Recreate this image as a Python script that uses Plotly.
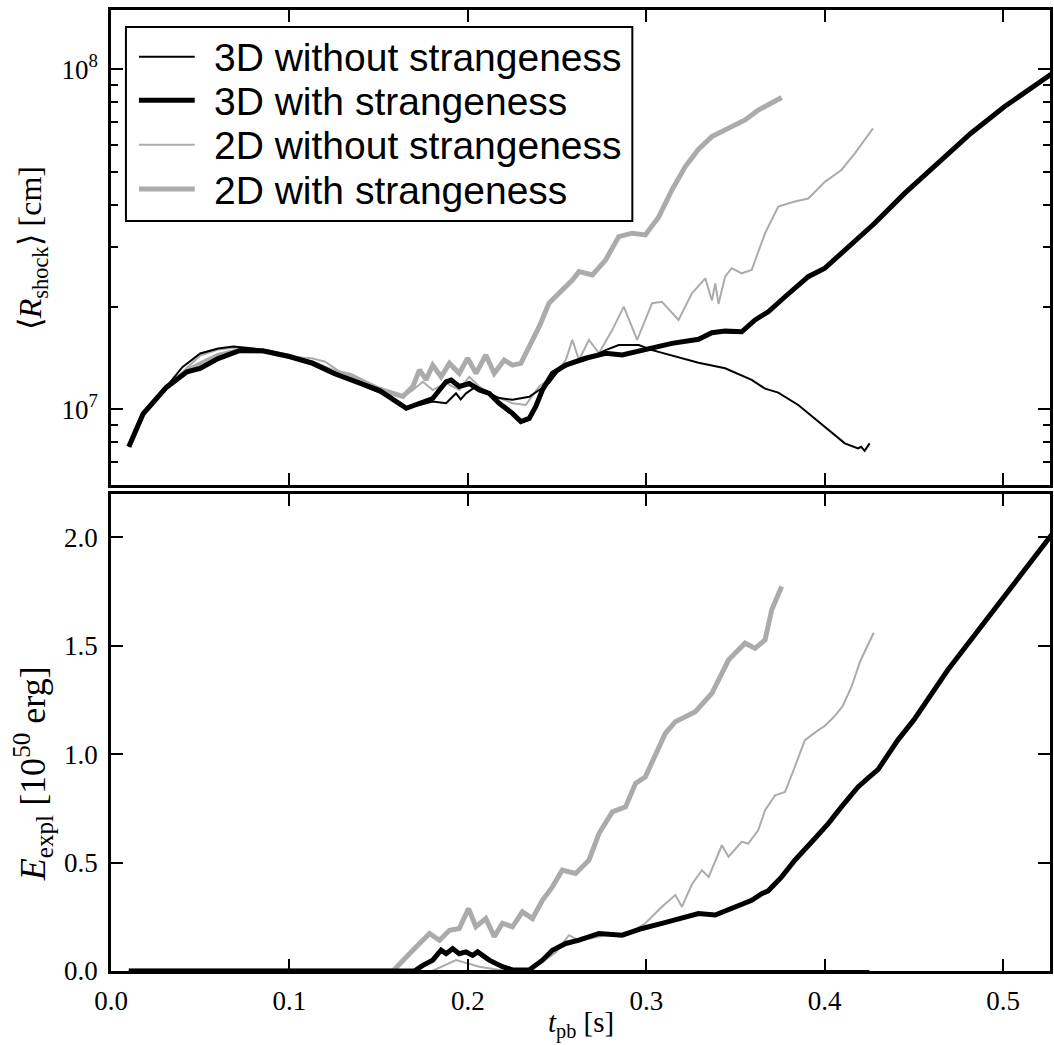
import plotly.graph_objects as go

# ---------------- data ----------------
# Top panel: mean shock radius <R_shock> [cm]
t_r3d_nos = [0.010, 0.018, 0.031, 0.040, 0.050, 0.060, 0.0686, 0.080, 0.090, 0.100, 0.113, 0.125,
             0.134, 0.145, 0.1506, 0.1617, 0.1655, 0.1729, 0.1803, 0.1878, 0.1934, 0.196, 0.199,
             0.2046, 0.212, 0.2176, 0.225, 0.2344, 0.240, 0.2455, 0.2511, 0.2567, 0.266, 0.2772,
             0.2846, 0.2958, 0.3033, 0.3181, 0.3293, 0.3442, 0.3591, 0.3666, 0.374, 0.3852,
             0.3964, 0.4001, 0.4113, 0.4187, 0.4205, 0.4224, 0.4252]
r_3d_nos = [7.76e6, 9.73e6, 1.164e7, 1.33e7, 1.46e7, 1.51e7, 1.53e7, 1.51e7, 1.48e7, 1.43e7, 1.38e7, 1.29e7,
            1.22e7, 1.15e7, 1.12e7, 1.05e7, 1.014e7, 1.03e7, 1.054e7, 1.042e7, 1.114e7, 1.07e7, 1.114e7,
            1.167e7, 1.114e7, 1.079e7, 1.067e7, 1.089e7, 1.14e7, 1.194e7, 1.306e7, 1.349e7, 1.396e7, 1.493e7,
            1.545e7, 1.545e7, 1.493e7, 1.42e7, 1.37e7, 1.32e7, 1.22e7, 1.15e7, 1.12e7, 1.03e7,
            9.23e6, 8.89e6, 7.94e6, 7.67e6, 7.76e6, 7.55e6, 7.94e6]

t_r3d_s = [0.010, 0.018, 0.031, 0.0426, 0.050, 0.060, 0.0723, 0.085, 0.100, 0.113, 0.125, 0.134,
           0.1506, 0.1655, 0.173, 0.1803, 0.1878, 0.1906, 0.1952, 0.2008, 0.2064, 0.212, 0.2176,
           0.225, 0.2297, 0.2344, 0.2381, 0.2418, 0.2474, 0.2549, 0.266, 0.2772, 0.2865, 0.2995,
           0.3144, 0.3293, 0.3368, 0.3442, 0.3535, 0.361, 0.3684, 0.3778, 0.3908, 0.4001, 0.4131,
           0.428, 0.4448, 0.4634, 0.482, 0.5007, 0.5155, 0.527, 0.535]
r_3d_s = [7.76e6, 9.7e6, 1.16e7, 1.29e7, 1.32e7, 1.41e7, 1.49e7, 1.486e7, 1.43e7, 1.365e7, 1.274e7, 1.22e7,
          1.135e7, 1.007e7, 1.042e7, 1.076e7, 1.205e7, 1.219e7, 1.167e7, 1.191e7, 1.14e7, 1.114e7, 1.042e7,
          9.73e6, 9.2e6, 9.4e6, 1.019e7, 1.14e7, 1.276e7, 1.349e7, 1.413e7, 1.462e7, 1.445e7, 1.493e7,
          1.563e7, 1.607e7, 1.679e7, 1.698e7, 1.69e7, 1.832e7, 1.936e7, 2.143e7, 2.455e7, 2.6e7, 3.006e7,
          3.524e7, 4.315e7, 5.297e7, 6.486e7, 7.762e7, 8.79e7, 9.73e7, 1.035e8]

t_r2d_nos = [0.010, 0.018, 0.031, 0.043, 0.050, 0.060, 0.070, 0.085, 0.100, 0.113, 0.120, 0.134,
             0.150, 0.1636, 0.1692, 0.1748, 0.1803, 0.1878, 0.1952, 0.2008, 0.2064, 0.2157, 0.225,
             0.2325, 0.240, 0.2474, 0.2549, 0.2586, 0.2623, 0.2679, 0.2735, 0.2809, 0.2874, 0.2949,
             0.3033, 0.3088, 0.3181, 0.3256, 0.3331, 0.3368, 0.3387, 0.3405, 0.3442, 0.3479, 0.3535,
             0.3591, 0.3666, 0.374, 0.3833, 0.3908, 0.4001, 0.4094, 0.4169, 0.4271]
r_2d_nos = [7.76e6, 9.7e6, 1.16e7, 1.33e7, 1.44e7, 1.50e7, 1.52e7, 1.49e7, 1.43e7, 1.41e7, 1.38e7, 1.23e7,
            1.135e7, 1.089e7, 1.14e7, 1.205e7, 1.14e7, 1.194e7, 1.14e7, 1.247e7, 1.167e7, 1.089e7, 1.042e7,
            1.03e7, 1.167e7, 1.247e7, 1.396e7, 1.60e7, 1.396e7, 1.60e7, 1.462e7, 1.71e7, 2.004e7, 1.60e7,
            2.051e7, 2.07e7, 1.832e7, 2.193e7, 2.427e7, 2.089e7, 2.344e7, 2.042e7, 2.455e7, 2.60e7, 2.512e7,
            2.57e7, 3.296e7, 3.945e7, 4.083e7, 4.169e7, 4.667e7, 5.058e7, 5.662e7, 6.699e7]

t_r2d_s = [0.010, 0.018, 0.031, 0.043, 0.050, 0.060, 0.072, 0.085, 0.100, 0.113, 0.125, 0.134,
           0.150, 0.1636, 0.1692, 0.1729, 0.1766, 0.1803, 0.185, 0.1897, 0.1952, 0.1999, 0.2046,
           0.2101, 0.2148, 0.2204, 0.225, 0.2297, 0.2344, 0.240, 0.2455, 0.2511, 0.2586, 0.2623,
           0.2698, 0.2772, 0.2846, 0.2921, 0.2995, 0.307, 0.3144, 0.3219, 0.3293, 0.3368, 0.3479,
           0.3554, 0.3628, 0.3759]
r_2d_s = [7.76e6, 9.7e6, 1.16e7, 1.30e7, 1.36e7, 1.44e7, 1.49e7, 1.485e7, 1.43e7, 1.37e7, 1.29e7, 1.26e7,
          1.148e7, 1.091e7, 1.167e7, 1.306e7, 1.222e7, 1.349e7, 1.247e7, 1.365e7, 1.276e7, 1.413e7, 1.276e7,
          1.445e7, 1.276e7, 1.396e7, 1.349e7, 1.365e7, 1.528e7, 1.75e7, 2.051e7, 2.193e7, 2.399e7, 2.541e7,
          2.483e7, 2.748e7, 3.221e7, 3.296e7, 3.258e7, 3.681e7, 4.416e7, 5.176e7, 5.821e7, 6.339e7, 6.776e7,
          7.096e7, 7.586e7, 8.26e7]

# Bottom panel: explosion energy [1e50 erg]
t_e3d_nos = [0.010, 0.100, 0.200, 0.300, 0.425]
e_3d_nos = [0.0, 0.0, 0.0, 0.0, 0.0]

t_e3d_s = [0.010, 0.170, 0.1748, 0.1803, 0.185, 0.1878, 0.1915, 0.1952, 0.1989, 0.2027, 0.2055,
           0.212, 0.2194, 0.225, 0.2344, 0.2418, 0.2474, 0.2549, 0.2623, 0.2735, 0.2865, 0.2977,
           0.3088, 0.3181, 0.3293, 0.3386, 0.348, 0.3591, 0.3647, 0.3684, 0.3759, 0.3833, 0.3945,
           0.402, 0.4094, 0.4187, 0.4243, 0.430, 0.441, 0.450, 0.469, 0.4968, 0.527, 0.535]
e_3d_s = [0.0, 0.0, 0.026, 0.05, 0.096, 0.08, 0.103, 0.08, 0.088, 0.072, 0.088,
          0.05, 0.02, 0.005, 0.005, 0.05, 0.096, 0.127, 0.142, 0.173, 0.165, 0.196,
          0.22, 0.242, 0.265, 0.258, 0.288, 0.326, 0.357, 0.37, 0.434, 0.511, 0.611,
          0.68, 0.757, 0.849, 0.89, 0.93, 1.065, 1.158, 1.388, 1.69, 2.01, 2.09]

t_e2d_nos = [0.010, 0.180, 0.1934, 0.2064, 0.2213, 0.2362, 0.2492, 0.2567, 0.2623, 0.2772, 0.2884,
             0.2995, 0.3088, 0.3163, 0.320, 0.3256, 0.3312, 0.335, 0.3424, 0.3461, 0.3535, 0.3572,
             0.3628, 0.3666, 0.3722, 0.3778, 0.3833, 0.3889, 0.3964, 0.400, 0.405, 0.410, 0.415,
             0.420, 0.424, 0.4275]
e_2d_nos = [0.0, 0.0, 0.05, 0.02, 0.0, 0.01, 0.085, 0.165, 0.14, 0.165, 0.165,
            0.22, 0.296, 0.35, 0.296, 0.40, 0.465, 0.434, 0.58, 0.527, 0.596, 0.588,
            0.65, 0.742, 0.81, 0.826, 0.942, 1.065, 1.111, 1.13, 1.17, 1.22, 1.31,
            1.43, 1.5, 1.56]

t_e2d_s = [0.010, 0.158, 0.1692, 0.1785, 0.1841, 0.1897, 0.1952, 0.2004, 0.2045, 0.2101, 0.2148,
           0.2194, 0.225, 0.2306, 0.2362, 0.2418, 0.2474, 0.2529, 0.2604, 0.2679, 0.2735, 0.281,
           0.2884, 0.294, 0.2995, 0.305, 0.3107, 0.3163, 0.3275, 0.3368, 0.3461, 0.3498, 0.3554,
           0.361, 0.3666, 0.3703, 0.3759]
e_2d_s = [0.0, 0.0, 0.096, 0.173, 0.142, 0.188, 0.196, 0.288, 0.204, 0.242, 0.158,
          0.22, 0.204, 0.273, 0.242, 0.326, 0.388, 0.465, 0.45, 0.511, 0.634, 0.734,
          0.757, 0.865, 0.896, 0.988, 1.096, 1.15, 1.196, 1.281, 1.434, 1.465, 1.512,
          1.488, 1.527, 1.665, 1.773]

series_names = ["3D without strangeness", "3D with strangeness",
                "2D without strangeness", "2D with strangeness"]
x_tick_vals = [0.0, 0.1, 0.2, 0.3, 0.4, 0.5]
r_tick_vals = [1e7, 1e8]
r_tick_text = ["10<sup>7</sup>", "10<sup>8</sup>"]
r_minor_vals = [6e6, 7e6, 8e6, 9e6, 2e7, 3e7, 4e7, 5e7, 6e7, 7e7, 8e7, 9e7]
e_tick_vals = [0.0, 0.5, 1.0, 1.5, 2.0]

# ---------------- geometry / styling ----------------
W, H = 1054, 1045
L, R, T, B = 111, 1, 10, 74
PW, PH = W - L - R, H - T - B


def px_x(px):
    return (px - L) / PW


def px_y(py):
    return (H - B - py) / PH


styles = [dict(color="black", width=2),
          dict(color="black", width=5),
          dict(color="#ababab", width=2),
          dict(color="#ababab", width=5)]

top_data = [(t_r3d_nos, r_3d_nos), (t_r3d_s, r_3d_s), (t_r2d_nos, r_2d_nos), (t_r2d_s, r_2d_s)]
bot_data = [(t_e3d_nos, e_3d_nos), (t_e3d_s, e_3d_s), (t_e2d_nos, e_2d_nos), (t_e2d_s, e_2d_s)]

fig = go.Figure()
draw_order = [3, 2, 0, 1]   # grey curves beneath the black ones
for i in draw_order:
    tx, ry = top_data[i]
    fig.add_trace(go.Scatter(x=tx, y=ry, mode="lines", name=series_names[i], line=styles[i],
                             xaxis="x", yaxis="y", showlegend=False))
for i in draw_order:
    tx, ey = bot_data[i]
    fig.add_trace(go.Scatter(x=tx, y=ey, mode="lines", name=series_names[i], line=styles[i],
                             xaxis="x2", yaxis="y2", showlegend=False))

SERIF = "Liberation Serif, Times New Roman, serif"
tickfont = dict(family=SERIF, size=27, color="black")
common = dict(showline=True, linewidth=2.5, linecolor="black", mirror="ticks",
              ticks="inside", ticklen=12, tickwidth=2, tickcolor="black",
              showgrid=False, zeroline=False, tickfont=tickfont)

x_range = [0.0, 0.5263]
top_dom = [px_y(485), 1.0]
bot_dom = [0.0, px_y(494)]

# legend drawn as a boxed key (top-left of upper panel)
leg_rows = [56.7, 100.3, 144.7, 189.0]
shapes = [dict(type="rect", xref="paper", yref="paper",
               x0=px_x(126), x1=px_x(634), y0=px_y(27), y1=px_y(221),
               line=dict(color="black", width=2), fillcolor="white", layer="above")]
annotations = []
for i, ry in enumerate(leg_rows):
    shapes.append(dict(type="line", xref="paper", yref="paper",
                       x0=px_x(139), x1=px_x(195), y0=px_y(ry), y1=px_y(ry),
                       line=dict(color=styles[i]["color"], width=styles[i]["width"]),
                       layer="above"))
    annotations.append(dict(text=series_names[i], xref="paper", yref="paper",
                            x=px_x(212), y=px_y(ry + 1), xanchor="left", yanchor="middle",
                            showarrow=False,
                            font=dict(family="Liberation Sans, Arial, sans-serif",
                                      size=39, color="black")))

annotations += [
    dict(text="⟨<i>R</i><sub>shock</sub>⟩ [cm]", x=px_x(33), y=px_y(248),
         xref="paper", yref="paper", xanchor="center", yanchor="middle",
         showarrow=False, textangle=-90, font=dict(family=SERIF, size=32, color="black")),
    dict(text="<i>E</i><sub>expl</sub> [10<sup>50</sup> erg]", x=px_x(33), y=px_y(774),
         xref="paper", yref="paper", xanchor="center", yanchor="middle",
         showarrow=False, textangle=-90, font=dict(family=SERIF, size=36, color="black")),
    dict(text="<i>t</i><sub>pb</sub> [s]", x=px_x(583), y=px_y(1024),
         xref="paper", yref="paper", xanchor="center", yanchor="middle",
         showarrow=False, font=dict(family=SERIF, size=29, color="black")),
]

fig.update_layout(
    width=W, height=H,
    margin=dict(l=L, r=R, t=T, b=B),
    paper_bgcolor="white", plot_bgcolor="white",
    showlegend=False,
    xaxis=dict(domain=[0, 1], anchor="y", range=x_range, tickvals=x_tick_vals,
               showticklabels=False, **common),
    yaxis=dict(domain=top_dom, anchor="x", type="log", range=[6.7774, 8.1744],
               tickvals=r_tick_vals, ticktext=r_tick_text, ticklabelstandoff=5,
               minor=dict(tickvals=r_minor_vals, ticks="inside", ticklen=7,
                          tickwidth=1.5, tickcolor="black", showgrid=False),
               **common),
    xaxis2=dict(domain=[0, 1], anchor="y2", range=x_range, tickvals=x_tick_vals,
                tickformat=".1f", ticklabelstandoff=4, **common),
    yaxis2=dict(domain=bot_dom, anchor="x2", range=[0, 2.2], tickvals=e_tick_vals,
                tickformat=".1f", ticklabelstandoff=5, **common),
    shapes=shapes,
    annotations=annotations,
)

fig.write_html("out.html")
